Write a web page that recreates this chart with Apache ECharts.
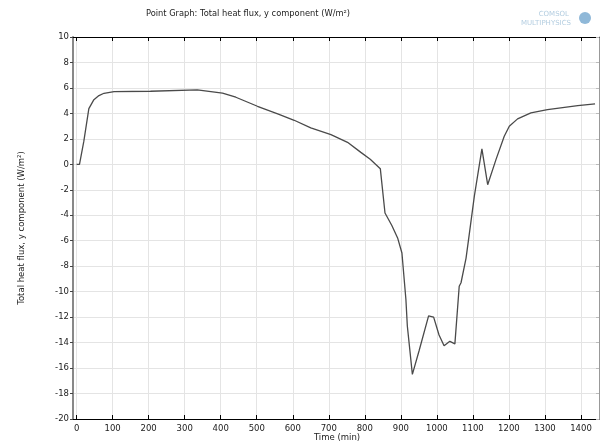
<!DOCTYPE html>
<html>
<head>
<meta charset="utf-8">
<script src="https://cdn.jsdelivr.net/npm/echarts@6/dist/echarts.min.js"></script>
<style>
html,body{margin:0;padding:0;background:#fff;}
#chart{width:601px;height:446px;}
</style>
</head>
<body>
<div id="chart"></div>
<script>
var timeMin = [0, 8, 20, 34, 48, 62, 76, 104, 205, 335, 405, 442, 502, 560, 604, 650, 706, 752, 789, 815, 843, 856, 875, 891, 903, 914, 918, 932, 951, 977, 991, 1006, 1020, 1036, 1050, 1062, 1067, 1081, 1088, 1104, 1125, 1141, 1164, 1187, 1201, 1224, 1261, 1307, 1391, 1439];
var fluxY   = [0, 0, 1.8, 4.37, 5.08, 5.4, 5.58, 5.71, 5.74, 5.84, 5.6, 5.27, 4.56, 3.95, 3.46, 2.86, 2.33, 1.73, 0.94, 0.4, -0.34, -3.82, -4.8, -5.78, -6.96, -10.6, -12.7, -16.5, -14.6, -11.9, -12.0, -13.4, -14.24, -13.9, -14.1, -9.58, -9.3, -7.36, -5.9, -2.5, 1.21, -1.6, 0.37, 2.2, 2.99, 3.57, 4.04, 4.3, 4.61, 4.74];
var xTicks = [0, 100, 200, 300, 400, 500, 600, 700, 800, 900, 1000, 1100, 1200, 1300, 1400];
var titleText = 'Point Graph: Total heat flux, y component (W/m²)';
var yName = 'Total heat flux, y component (W/m²)';
var xName = 'Time (min)';

var pts = timeMin.map(function (t, i) { return [t, fluxY[i]]; });
var chart = echarts.init(document.getElementById('chart'));
var font = 'DejaVu Sans';
chart.setOption({
  animation: false,
  backgroundColor: '#fff',
  graphic: [
    { type: 'text', x: 248, y: 14, style: { text: titleText, fontFamily: font, fontSize: 8.3, fill: '#222', align: 'center', verticalAlign: 'middle' } },
    { type: 'text', x: 569, y: 14, style: { text: 'COMSOL', fontFamily: font, fontSize: 7, fill: '#b3cde0', align: 'right', verticalAlign: 'middle' } },
    { type: 'text', x: 571, y: 23, style: { text: 'MULTIPHYSICS', fontFamily: font, fontSize: 7, fill: '#b3cde0', align: 'right', verticalAlign: 'middle' } },
    { type: 'circle', shape: { cx: 585, cy: 18, r: 6 }, style: { fill: '#8fb8d8' } },
    { type: 'text', x: 337, y: 438, style: { text: xName, fontFamily: font, fontSize: 8.5, fill: '#222', align: 'center', verticalAlign: 'middle' } },
    { type: 'text', x: 22, y: 228, rotation: Math.PI / 2, style: { text: yName, fontFamily: font, fontSize: 8.5, fill: '#222', align: 'center', verticalAlign: 'middle' } }
  ],
  grid: { left: 73, right: 2, top: 37, bottom: 27, containLabel: false },
  xAxis: [{
    type: 'value', min: -10, max: 1450, position: 'bottom',
    axisLine: { show: true, onZero: false, lineStyle: { color: '#000', width: 1 } },
    axisTick: { show: true, inside: true, length: 4, customValues: xTicks, lineStyle: { color: '#000' } },
    axisLabel: { customValues: xTicks, formatter: function (v) { return String(v); }, fontFamily: font, fontSize: 8.5, color: '#222', margin: 5 },
    splitLine: { show: true, lineStyle: { color: '#e4e4e4', width: 1 } }
  }, {
    type: 'value', min: -10, max: 1450, position: 'top',
    axisLine: { show: true, onZero: false, lineStyle: { color: '#000', width: 1 } },
    axisTick: { show: true, inside: true, length: 4, customValues: xTicks, lineStyle: { color: '#000' } },
    axisLabel: { show: false },
    splitLine: { show: false }
  }],
  yAxis: [{
    type: 'value', min: -20, max: 10, interval: 2, position: 'left',
    axisLine: { show: true, onZero: false, lineStyle: { color: '#888', width: 2 } },
    axisTick: { show: true, inside: false, length: 3, lineStyle: { color: '#444' } },
    axisLabel: { fontFamily: font, fontSize: 8.5, color: '#222', margin: 4 },
    splitLine: { show: true, lineStyle: { color: '#e4e4e4', width: 1 } }
  }, {
    type: 'value', min: -20, max: 10, interval: 2, position: 'right',
    axisLine: { show: true, onZero: false, lineStyle: { color: '#999', width: 1 } },
    axisTick: { show: true, inside: true, length: 3, lineStyle: { color: '#bbb' } },
    axisLabel: { show: false },
    splitLine: { show: false }
  }],
  series: [{
    type: 'line', xAxisIndex: 0, yAxisIndex: 0, data: pts, showSymbol: false,
    lineStyle: { color: '#4a4a4a', width: 1.3 }, smooth: false
  }]
});
</script>
</body>
</html>
